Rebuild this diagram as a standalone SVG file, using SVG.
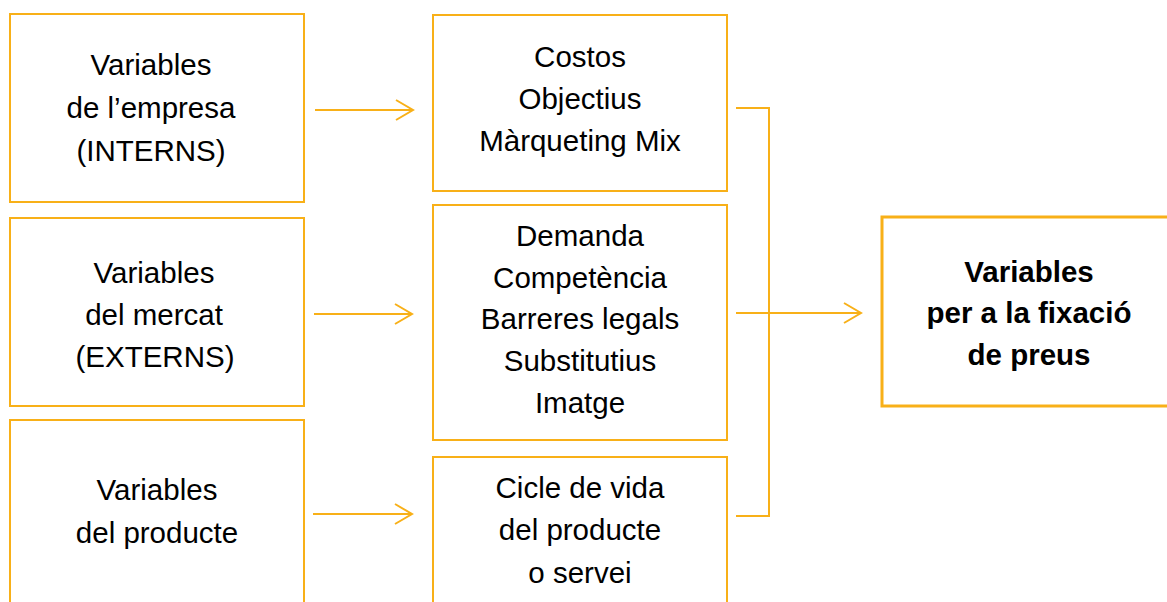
<svg xmlns="http://www.w3.org/2000/svg" width="1167" height="602" viewBox="0 0 1167 602">
<style>
.box{fill:#fff;stroke:#F8B018;stroke-width:2}
.main{fill:#fff;stroke:#F8B018;stroke-width:3}
.t{font-family:"Liberation Sans",Arial,sans-serif;font-size:29.5px;fill:#000;text-anchor:middle}
.b{font-weight:bold}
.c{fill:none;stroke:#F8B018;stroke-width:2}
</style>
<defs>
<marker id="ah" markerWidth="20" markerHeight="24" refX="18" refY="11" orient="auto" markerUnits="userSpaceOnUse">
<path d="M1,1 L18,11 L1,21" fill="none" stroke="#F8B018" stroke-width="2"/>
</marker>
</defs>
<rect width="1167" height="602" fill="#fff"/>
<g id="empresa">
<rect class="box" x="10" y="14" width="294" height="188"/>
<text class="t" x="151" y="75">Variables</text>
<text class="t" x="151" y="118">de l’empresa</text>
<text class="t" x="151" y="161">(INTERNS)</text>
</g>
<g id="mercat">
<rect class="box" x="10" y="218" width="294" height="188"/>
<text class="t" x="154" y="283">Variables</text>
<text class="t" x="154" y="325">del mercat</text>
<text class="t" x="155" y="367">(EXTERNS)</text>
</g>
<g id="producte">
<rect class="box" x="10" y="420" width="294" height="200"/>
<text class="t" x="157" y="500">Variables</text>
<text class="t" x="157" y="543">del producte</text>
</g>
<g id="interns">
<rect class="box" x="433" y="15" width="294" height="176"/>
<text class="t" x="580" y="67">Costos</text>
<text class="t" x="580" y="109">Objectius</text>
<text class="t" x="580" y="151">Màrqueting Mix</text>
</g>
<g id="externs">
<rect class="box" x="433" y="205" width="294" height="235"/>
<text class="t" x="580" y="246">Demanda</text>
<text class="t" x="580" y="288">Competència</text>
<text class="t" x="580" y="329">Barreres legals</text>
<text class="t" x="580" y="371">Substitutius</text>
<text class="t" x="580" y="413">Imatge</text>
</g>
<g id="cicle">
<rect class="box" x="433" y="457" width="294" height="160"/>
<text class="t" x="580" y="498">Cicle de vida</text>
<text class="t" x="580" y="540">del producte</text>
<text class="t" x="580" y="583">o servei</text>
</g>
<g id="fixacio">
<rect class="main" x="882" y="217" width="300" height="189"/>
<text class="t b" x="1029" y="282">Variables</text>
<text class="t b" x="1029" y="323">per a la fixació</text>
<text class="t b" x="1029" y="365">de preus</text>
</g>
<g id="connectors">
<line class="c" x1="315" y1="110" x2="413" y2="110" marker-end="url(#ah)"/>
<line class="c" x1="314" y1="314" x2="412" y2="314" marker-end="url(#ah)"/>
<line class="c" x1="313" y1="514" x2="412" y2="514" marker-end="url(#ah)"/>
<polyline class="c" points="736,108 769,108 769,516 736,516"/>
<line class="c" x1="736" y1="313" x2="861" y2="313" marker-end="url(#ah)"/>
</g>
</svg>
